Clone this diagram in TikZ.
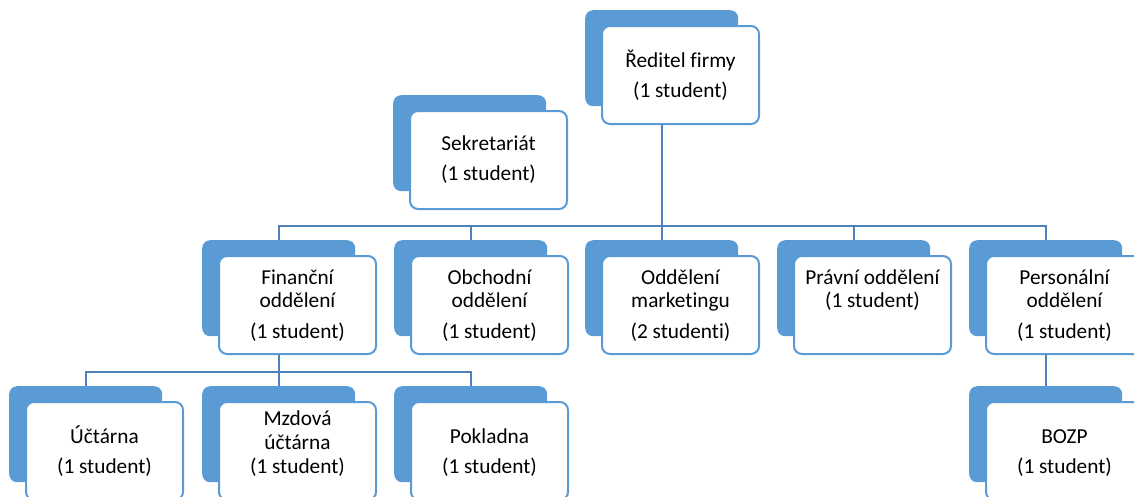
\documentclass[tikz,border=0pt]{standalone}
\usepackage{fontspec}
\setmainfont{Carlito}
\newfontfamily\orgfont{Carlito}[Ligatures=NoCommon]
\definecolor{boxblue}{RGB}{91,155,213}
\definecolor{lineblue}{RGB}{79,129,189}
\newcommand\firstline{\rule{0pt}{20pt}}
% one org-chart unit: a filled card behind, a white framed card in front
\newcommand\orgunit[3]{%
  \node[back] (#1b) at (#2,#3) {};
  \node[front] (#1) at ([xshift=16pt,yshift=-15pt]#1b.north west) {};
}
\begin{document}
\begin{tikzpicture}[x=1pt,y=-1pt]
\tikzset{
  back/.style={fill=boxblue, rounded corners=8pt, minimum width=153pt,
    minimum height=96pt, inner sep=0pt, anchor=north west},
  front/.style={draw=boxblue, line width=2pt, fill=white, rounded corners=8pt,
    minimum width=157pt, minimum height=98pt, inner sep=0pt, anchor=north west},
  lbl/.style={anchor=north, inner sep=0pt, align=center,
    font=\orgfont\fontsize{21.3}{23}\selectfont},
  conn/.style={draw=lineblue, line width=2.3pt},
}
\useasboundingbox (0,0) rectangle (1134,496);

% top
\orgunit{dir}{585}{10}
\orgunit{sek}{393}{95}
% departments
\orgunit{fin}{202}{240}
\orgunit{obch}{394}{240}
\orgunit{mkt}{585}{240}
\orgunit{prav}{777}{240}
\orgunit{pers}{969}{240}
% sub-units
\orgunit{uct}{9}{386}
\orgunit{mzd}{202}{386}
\orgunit{pok}{394}{386}
\orgunit{bozp}{969}{386}

% labels
\node[lbl] (dirt) at ([yshift=-22pt]dir.north) {\firstline Ředitel firmy\\[7pt](1 student)};
\node[lbl] (sekt) at ([yshift=-20pt]sek.north) {\firstline Sekretariát\\[7pt](1 student)};
\node[lbl] (fint) at ([yshift=-9pt]fin.north) {\firstline Finanční\\oddělení\\[8pt](1 student)};
\node[lbl] (obcht) at ([yshift=-9pt]obch.north) {\firstline Obchodní\\oddělení\\[8pt](1 student)};
\node[lbl] (mktt) at ([yshift=-9pt]mkt.north) {\firstline Oddělení\\marketingu\\[8pt](2 studenti)};
\node[lbl] (pravt) at ([yshift=-9pt]prav.north) {\firstline Právní oddělení\\(1 student)};
\node[lbl] (perst) at ([yshift=-9pt]pers.north) {\firstline Personální\\oddělení\\[8pt](1 student)};
\node[lbl] (uctt) at ([yshift=-22pt]uct.north) {\firstline Účtárna\\[7pt](1 student)};
\node[lbl] (mzdt) at ([yshift=-4pt]mzd.north) {\firstline Mzdová\\[1pt]účtárna\\[1pt](1 student)};
\node[lbl] (pokt) at ([yshift=-22pt]pok.north) {\firstline Pokladna\\[7pt](1 student)};
\node[lbl] (bozpt) at ([yshift=-22pt]bozp.north) {\firstline BOZP\\[7pt](1 student)};

% connectors
\draw[conn] (dirb.south |- dir.south) -- ++(0,101) coordinate (bus1);
\foreach \n in {fin,obch,mkt,prav,pers}
  \draw[conn] (bus1) -| (\n b.north);
\draw[conn] (finb.south |- fin.south) -- ++(0,17) coordinate (bus2);
\foreach \n in {uct,mzd,pok}
  \draw[conn] (bus2) -| (\n b.north);
\draw[conn] (persb.south |- pers.south) -- (bozpb.north);
\end{tikzpicture}
\end{document}
